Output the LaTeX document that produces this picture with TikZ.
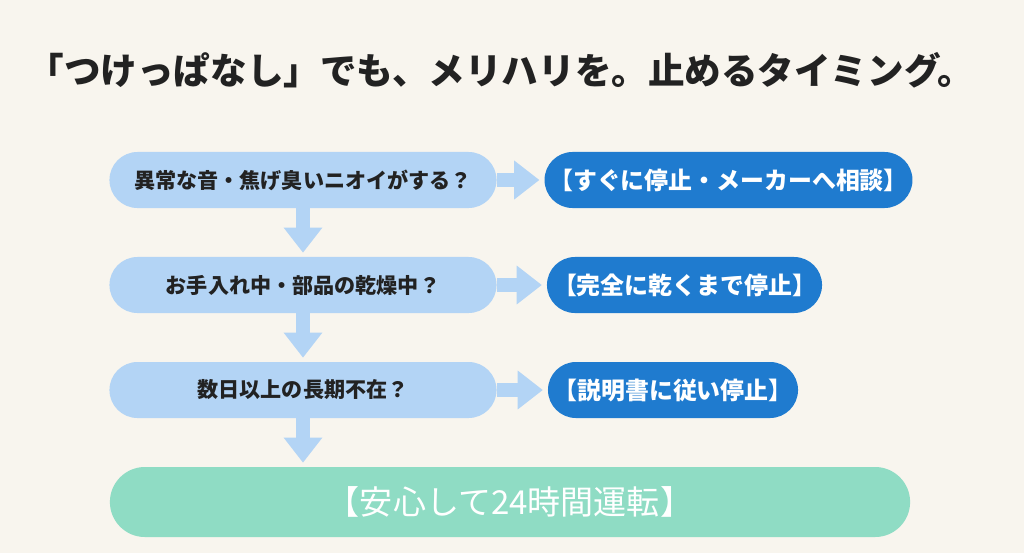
\documentclass[tikz,border=0pt]{standalone}
\usepackage{fontspec}
\setmainfont{Noto Sans CJK JP}
\usetikzlibrary{positioning, arrows.meta}
\definecolor{bgcream}{HTML}{F8F5EE}
\definecolor{asklight}{HTML}{B3D4F5}
\definecolor{stopdark}{HTML}{1F7BCF}
\definecolor{okgreen}{HTML}{8FDCC4}
\definecolor{inkdark}{HTML}{222222}

\tikzset{
  askbox/.style = {fill=asklight, rounded corners=0.7cm, minimum width=9.675cm,
    minimum height=1.4cm, text=inkdark, font=\bfseries\fontsize{15}{18}\selectfont},
  stopbox/.style = {fill=stopdark, rounded corners=0.7cm, minimum height=1.4cm,
    text=white, font=\bfseries\fontsize{17}{20}\selectfont},
  okbox/.style = {fill=okgreen, rounded corners=0.875cm, minimum width=20cm,
    minimum height=1.75cm, text=white, font=\fontsize{23.5}{28}\selectfont},
  flow/.style = {draw=asklight, line width=0.33cm,
    -{Triangle[length=0.63cm, width=0.93cm]}}
}

\begin{document}
\begin{tikzpicture}[x=0.025cm, y=-0.025cm]
  \fill[bgcream] (0,0) rectangle (1024,553);

  % title
  \node[text=inkdark, font=\bfseries\fontsize{26}{31}\selectfont] (title) at (501,70)
    {「つけっぱなし」でも、メリハリを。止めるタイミング。};

  % questions
  \node[askbox] (q1) at (303,180) {異常な音・焦げ臭いニオイがする？};
  \node[askbox] (q2) at (303,285) {お手入れ中・部品の乾燥中？};
  \node[askbox] (q3) at (303,390) {数日以上の長期不在？};

  % answers
  \node[stopbox, minimum width=9.075cm] (s1) at (728.5,180) {【すぐに停止・メーカーへ相談】};
  \node[stopbox, minimum width=6.875cm] (s2) at (684.5,285) {【完全に乾くまで停止】};
  \node[stopbox, minimum width=6.25cm]  (s3) at (673,390) {【説明書に従い停止】};

  \node[okbox] (ok) at (510,502) {【安心して24時間運転】};

  % arrows
  \draw[flow, shorten >=1.2mm] (q1) -- (s1);
  \draw[flow, shorten >=1.2mm] (q2) -- (s2);
  \draw[flow, shorten >=1.2mm] (q3) -- (s3);
  \draw[flow, shorten >=1mm] (q1.south) -- (q2.north);
  \draw[flow, shorten >=1mm] (q2.south) -- (q3.north);
  \draw[flow, shorten >=1mm] (q3.south) -- (q3.south |- ok.north);
\end{tikzpicture}
\end{document}
